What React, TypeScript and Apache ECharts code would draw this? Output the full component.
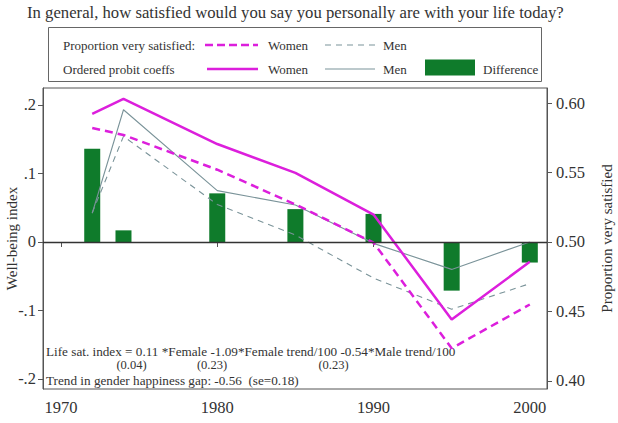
import React, { useEffect, useRef } from "react";
import * as echarts from "echarts";

const years = [1972, 1974, 1980, 1985, 1990, 1995, 2000];
const difference = [0.136, 0.017, 0.071, 0.048, 0.041, -0.071, -0.03];
const womenCoef = [0.187, 0.209, 0.143, 0.101, 0.04, -0.113, -0.029];
const menCoef = [0.042, 0.193, 0.075, 0.054, -0.002, -0.04, 0.0];
const womenProp = [0.582, 0.577, 0.552, 0.527, 0.4995, 0.4235, 0.455];
const menProp = [0.521, 0.576, 0.527, 0.505, 0.474, 0.4516, 0.47];

const xTicks = [1970, 1980, 1990, 2000];
const leftTicks = [-0.2, -0.1, 0, 0.1, 0.2];
const leftTickLabels = ["-.2", "-.1", "0", ".1", ".2"];
const rightTicks = [0.4, 0.45, 0.5, 0.55, 0.6];

const FONT = "'Liberation Serif', 'DejaVu Serif', serif";
const MAGENTA = "#dc1fdc";
const MENC = "#7a9399";
const GREEN = "#0f7b2b";
const TXT = "#333333";

const pairs = (v: number[]) => years.map((y, i) => [y, v[i]]);

export default function App() {
  const ref = useRef<HTMLDivElement>(null);
  useEffect(() => {
    document.body.style.margin = "0";
    const chart = echarts.init(ref.current!, null, { renderer: "svg" });
    const t = (text: string, x: number, y: number, size: number, align = "left") => ({
      type: "text",
      silent: true,
      style: {
        text,
        x,
        y,
        fill: TXT,
        font: `${size}px ${FONT}`,
        align,
        verticalAlign: "middle",
        textAlign: align,
        textVerticalAlign: "middle",
      },
    });
    const ln = (x1: number, x2: number, y: number, w: number, c: string, dash?: number[]) => ({
      type: "line",
      silent: true,
      shape: { x1, y1: y, x2, y2: y },
      style: { stroke: c, lineWidth: w, lineDash: dash },
    });
    chart.setOption({
      animation: false,
      backgroundColor: "#ffffff",
      textStyle: { fontFamily: FONT, color: TXT },
      title: {
        text: "In general, how satisfied would you say you personally are with your life today?",
        left: 27,
        top: 4,
        padding: 0,
        textStyle: { fontFamily: FONT, fontSize: 16.7, fontWeight: "normal", color: TXT },
      },
      grid: {
        left: 43,
        right: 71,
        top: 88,
        bottom: 34,
        show: true,
        borderColor: "#555",
        borderWidth: 1,
        containLabel: false,
        outerBoundsMode: "none",
      },
      xAxis: {
        type: "value",
        min: 1968.85,
        max: 2001.1,
        splitLine: { show: false },
        axisLine: { show: true, lineStyle: { color: "#555" } },
        axisTick: { show: true, length: 5, customValues: xTicks, lineStyle: { color: "#555" } },
        axisLabel: {
          customValues: xTicks,
          margin: 10,
          fontSize: 16.5,
          fontFamily: FONT,
          color: TXT,
          formatter: (v: number) => String(v),
        },
      },
      yAxis: [
        {
          type: "value",
          min: -0.2146,
          max: 0.2248,
          name: "Well-being index",
          nameLocation: "middle",
          nameRotate: 90,
          nameGap: 24,
          nameMoveOverlap: false,
          nameTextStyle: { fontFamily: FONT, fontSize: 15, color: TXT },
          splitLine: { show: false },
          axisLine: { show: true, lineStyle: { color: "#555" } },
          axisTick: { show: true, length: 5, customValues: leftTicks, lineStyle: { color: "#555" } },
          axisLabel: {
            customValues: leftTicks,
            margin: 7,
            fontSize: 16.5,
            fontFamily: FONT,
            color: TXT,
            formatter: (v: number) => {
              const i = leftTicks.findIndex((k) => Math.abs(k - v) < 1e-6);
              return i >= 0 ? leftTickLabels[i] : "";
            },
          },
        },
        {
          type: "value",
          position: "right",
          min: 0.3942,
          max: 0.6108,
          name: "Proportion very satisfied",
          nameLocation: "middle",
          nameRotate: 90,
          nameGap: 52,
          nameMoveOverlap: false,
          nameTextStyle: { fontFamily: FONT, fontSize: 15, color: TXT },
          splitLine: { show: false },
          axisLine: { show: true, lineStyle: { color: "#555" } },
          axisTick: { show: true, length: 5, customValues: rightTicks, lineStyle: { color: "#555" } },
          axisLabel: {
            customValues: rightTicks,
            margin: 9,
            fontSize: 16.5,
            fontFamily: FONT,
            color: TXT,
            formatter: (v: number) => v.toFixed(2),
          },
        },
      ],
      series: [
        {
          name: "Difference",
          type: "bar",
          yAxisIndex: 0,
          barWidth: 16,
          z: 1,
          itemStyle: { color: GREEN },
          data: pairs(difference),
          markLine: {
            silent: true,
            symbol: "none",
            label: { show: false },
            lineStyle: { color: "#333", width: 1.3, type: "solid" },
            data: [{ yAxis: 0 }],
          },
        },
        {
          name: "Men (proportion)",
          type: "line",
          yAxisIndex: 1,
          symbol: "none",
          z: 3,
          lineStyle: { color: MENC, width: 1.1, type: [6, 5] },
          data: pairs(menProp),
        },
        {
          name: "Men (probit)",
          type: "line",
          yAxisIndex: 0,
          symbol: "none",
          z: 3,
          lineStyle: { color: MENC, width: 1.1, type: "solid" },
          data: pairs(menCoef),
        },
        {
          name: "Women (proportion)",
          type: "line",
          yAxisIndex: 1,
          symbol: "none",
          z: 4,
          lineStyle: { color: MAGENTA, width: 2.5, type: [8, 5] },
          data: pairs(womenProp),
        },
        {
          name: "Women (probit)",
          type: "line",
          yAxisIndex: 0,
          symbol: "none",
          z: 4,
          lineStyle: { color: MAGENTA, width: 2.5, type: "solid" },
          data: pairs(womenCoef),
        },
      ],
      graphic: [
        {
          type: "rect",
          silent: true,
          shape: { x: 48.5, y: 27.5, width: 493, height: 54 },
          style: { fill: "#fff", stroke: "#666", lineWidth: 1 },
        },
        t("Proportion very satisfied:", 63, 45, 13),
        ln(205, 258, 45, 2.5, MAGENTA, [8, 4]),
        t("Women", 268, 45, 13),
        ln(325, 375, 45, 1.1, MENC, [6, 5]),
        t("Men", 383, 45, 13),
        t("Ordered probit coeffs", 63, 69, 13),
        ln(207, 258, 69, 2.5, MAGENTA),
        t("Women", 268, 69, 13),
        ln(325, 375, 69, 1.1, MENC),
        t("Men", 383, 69, 13),
        {
          type: "rect",
          silent: true,
          shape: { x: 425, y: 59.5, width: 50, height: 16 },
          style: { fill: GREEN },
        },
        t("Difference", 483, 69, 13),
        t("Life sat. index = 0.11 *Female -1.09*Female trend/100 -0.54*Male trend/100", 46, 351, 13.2),
        t("(0.04)", 131.5, 365, 12.5, "center"),
        t("(0.23)", 212, 365, 12.5, "center"),
        t("(0.23)", 333.5, 365, 12.5, "center"),
        t("Trend in gender happiness gap: -0.56  (se=0.18)", 46, 380, 13.2),
      ],
    });
    return () => chart.dispose();
  }, []);
  return (
    <div
      ref={ref}
      style={{ position: "absolute", left: 0, top: 0, width: 618, height: 423, background: "#fff" }}
    />
  );
}
